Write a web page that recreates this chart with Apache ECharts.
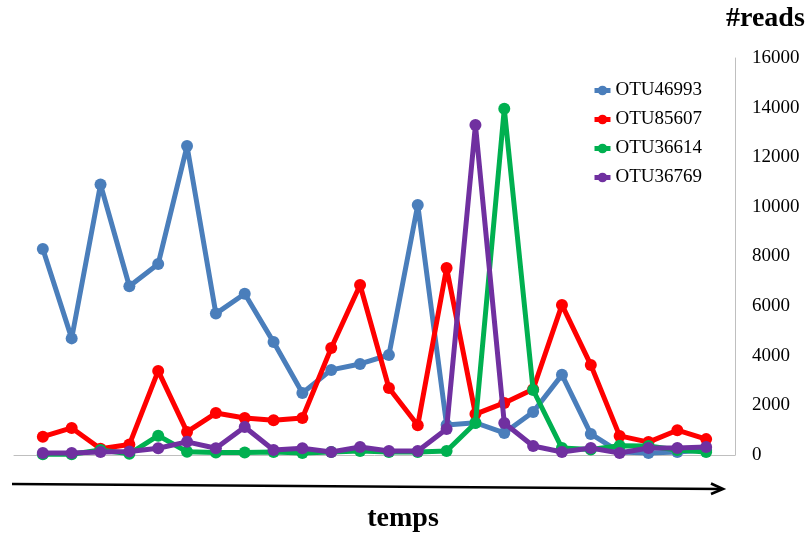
<!DOCTYPE html>
<html>
<head>
<meta charset="utf-8">
<script src="https://cdn.jsdelivr.net/npm/echarts@6/dist/echarts.min.js"></script>
<style>html,body{margin:0;padding:0;background:#fff}#c{width:809px;height:535px}</style>
</head>
<body>
<div id="c"></div>
<script>
// time points (no labels shown in the reference)
var timePoints = ['t1','t2','t3','t4','t5','t6','t7','t8','t9','t10','t11','t12','t13','t14','t15','t16','t17','t18','t19','t20','t21','t22','t23','t24'];
var seriesNames = ['OTU46993','OTU85607','OTU36614','OTU36769'];
var otu46993 = [8300,4700,10900,6800,7700,12450,5700,6500,4550,2500,3430,3670,4030,10080,1210,1300,890,1730,3230,850,120,80,120,200];
var otu85607 = [740,1090,250,420,3390,930,1690,1490,1400,1490,4310,6850,2700,1200,7540,1650,2100,2650,6050,3630,770,520,1000,640];
var otu36614 = [30,30,200,50,780,130,100,100,120,80,120,160,120,120,160,1290,13950,2620,280,220,370,360,200,120];
var otu36769 = [80,80,120,140,270,530,270,1130,200,270,120,320,160,160,1050,13300,1290,360,120,280,80,280,280,320];
var yTicks = {min: 0, max: 16000, interval: 2000};
var colors = ['#4A7EBB','#FF0000','#00B050','#7030A0'];

// an empty slot on each side, as the reference leaves a full step of space at both ends
var categories = ['start'].concat(timePoints, ['end']);
function pad(arr){ return [null].concat(arr, [null]); }
var allData = [otu46993, otu85607, otu36614, otu36769];

var chart = echarts.init(document.getElementById('c'));
var serif = '"Liberation Serif","Times New Roman",serif';
chart.setOption({
  animation: false,
  color: colors,
  grid: {left: 14, right: 74, top: 58, bottom: 80},
  legend: {
    orient: 'vertical', left: 587, top: 76,
    itemWidth: 16, itemHeight: 12, itemGap: 10,
    lineStyle: {width: 5},
    textStyle: {fontFamily: serif, fontSize: 19, color: '#000', lineHeight: 19},
    data: seriesNames
  },
  xAxis: {
    type: 'category', data: categories, boundaryGap: false,
    axisLine: {lineStyle: {color: '#BFBFBF', width: 1}},
    axisTick: {show: false}, axisLabel: {show: false}, splitLine: {show: false}
  },
  yAxis: {
    type: 'value', position: 'right', min: yTicks.min, max: yTicks.max, interval: yTicks.interval,
    axisLine: {show: true, lineStyle: {color: '#BFBFBF', width: 1}},
    axisTick: {show: false}, splitLine: {show: false},
    axisLabel: {margin: 17, fontFamily: serif, fontSize: 19, color: '#000', formatter: function(v){ return String(v); }}
  },
  series: seriesNames.map(function(n, i){
    return {
      name: n, type: 'line', data: pad(allData[i]),
      symbol: 'circle', symbolSize: 12, showSymbol: true,
      lineStyle: {width: 5, color: colors[i]},
      itemStyle: {color: colors[i]},
      z: 2 + i
    };
  }),
  graphic: [
    {type: 'text', left: 726, top: 5, style: {text: '#reads', font: 'bold 28px ' + serif, fill: '#000'}},
    {type: 'text', x: 403, y: 519, style: {text: 'temps', font: 'bold 28px ' + serif, fill: '#000', textAlign: 'center', textVerticalAlign: 'middle'}},
    {type: 'line', shape: {x1: 12, y1: 484, x2: 722, y2: 489}, style: {stroke: '#000', lineWidth: 2.6}},
    {type: 'polyline', shape: {points: [[711, 483.5], [723, 489], [711, 494]]}, style: {stroke: '#000', lineWidth: 2.6, fill: null}}
  ]
});
</script>
</body>
</html>
